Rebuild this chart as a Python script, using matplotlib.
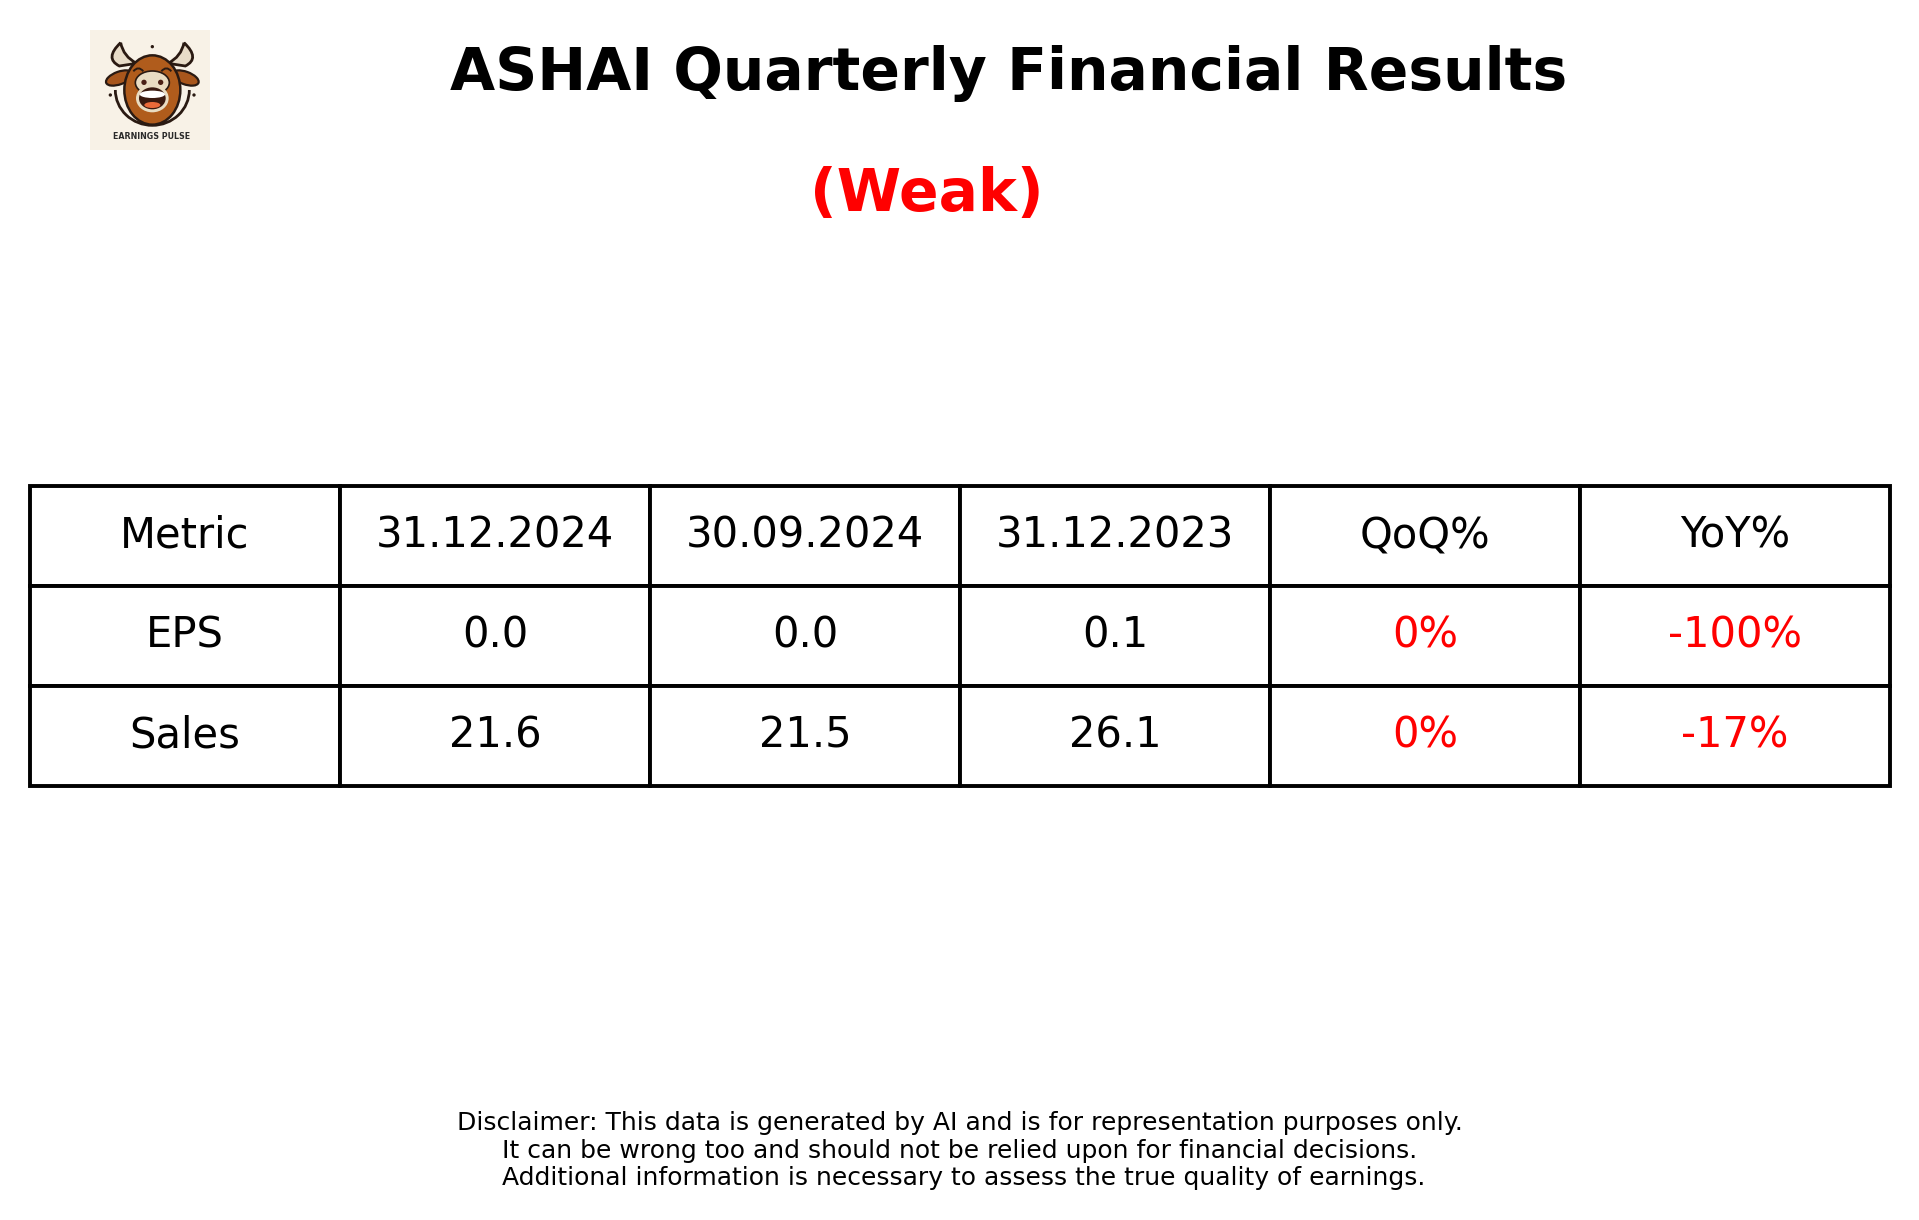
import matplotlib
matplotlib.use('Agg')
from matplotlib import pyplot as plt
from matplotlib.patches import Arc, Ellipse, Circle, PathPatch, Rectangle
from matplotlib.path import Path

WIDTH, HEIGHT, DPI = 1919, 1220, 200

columns = ['Metric', '31.12.2024', '30.09.2024', '31.12.2023', 'QoQ%', 'YoY%']
eps_row = ['EPS', '0.0', '0.0', '0.1', '0%', '-100%']
sales_row = ['Sales', '21.6', '21.5', '26.1', '0%', '-17%']
red_columns = [4, 5]

title = 'ASHAI Quarterly Financial Results'
verdict = '(Weak)'
disclaimer = ['Disclaimer: This data is generated by AI and is for representation purposes only.',
              'It can be wrong too and should not be relied upon for financial decisions.',
              'Additional information is necessary to assess the true quality of earnings.']


def curve(ax, pts, color, lw=0.7):
    codes = [Path.MOVETO] + [Path.CURVE3] * (len(pts) - 1)
    ax.add_patch(PathPatch(Path(pts, codes), facecolor='none', edgecolor=color, linewidth=lw))


def horn(ax, side):
    # side is -1 for the left horn, 1 for the right one, mirrored around the head centre
    pts = [(92, 38), (42, 85), (88, 108), (140, 100), (100, 80), (92, 38)]
    if side > 0:
        pts = [(374 - x, y) for x, y in pts]
    codes = [Path.MOVETO, Path.CURVE3, Path.CURVE3, Path.LINETO, Path.CURVE3, Path.CURVE3]
    ax.add_patch(PathPatch(Path(pts, codes), facecolor='#e8dcc8', edgecolor='#2a1a12', linewidth=1.0))


def draw_logo(fig):
    ax = fig.add_axes([90 / WIDTH, 1 - 150 / HEIGHT, 120 / WIDTH, 120 / HEIGHT])
    ax.set_xlim(0, 360)
    ax.set_ylim(360, 0)
    ax.axis('off')
    dark = '#2a1a12'
    ax.add_patch(Rectangle((0, 0), 360, 360, facecolor='#f8f2e7', edgecolor='none'))
    ax.add_patch(Ellipse((88, 144), 84, 38, angle=-20, facecolor='#a8561c', edgecolor=dark, linewidth=0.8))
    ax.add_patch(Ellipse((286, 144), 84, 38, angle=20, facecolor='#a8561c', edgecolor=dark, linewidth=0.8))
    horn(ax, -1)
    horn(ax, 1)
    # ring behind the head, open at the top
    ax.add_patch(Arc((187, 180), 222, 212, theta1=0, theta2=180, color=dark, linewidth=1.0))
    ax.add_patch(Ellipse((187, 180), 168, 208, facecolor='#b05c1c', edgecolor=dark, linewidth=0.9))
    # muzzle and mouth
    ax.add_patch(Ellipse((187, 158), 102, 70, facecolor='#e9dcc2', edgecolor=dark, linewidth=0.6))
    ax.add_patch(Ellipse((187, 205), 98, 84, facecolor='#e9dcc2', edgecolor='none'))
    ax.add_patch(Ellipse((187, 205), 80, 66, facecolor='#3a1a10', edgecolor='none'))
    ax.add_patch(Ellipse((187, 193), 76, 22, facecolor='white', edgecolor='none'))
    ax.add_patch(Ellipse((187, 225), 48, 18, facecolor='#ea6a3a', edgecolor='none'))
    for x in (162, 212):
        ax.add_patch(Circle((x, 157), 8, facecolor='#4a2015', edgecolor='none'))
    curve(ax, [(130, 124), (145, 106), (160, 124)], dark)
    curve(ax, [(214, 124), (229, 106), (244, 124)], dark)
    for x, y in [(187, 50), (61, 195), (312, 195)]:
        ax.add_patch(Circle((x, y), 5, facecolor=dark, edgecolor='none'))
    ax.text(185, 320, 'EARNINGS PULSE', fontsize=2.85, fontweight='bold', color='#2a2a2a',
            ha='center', va='center')


def draw_table(fig):
    ax = fig.add_axes([0, 0, 1, 1])
    ax.set_xlim(0, WIDTH)
    ax.set_ylim(0, HEIGHT)
    ax.axis('off')
    tbl = ax.table(cellText=[eps_row, sales_row], colLabels=columns, cellLoc='center',
                   bbox=[30, HEIGHT - 786, 1860, 300], transform=ax.transData)
    tbl.auto_set_font_size(False)
    for (row, col), cell in tbl.get_celld().items():
        cell.set_linewidth(1.4)
        cell.set_edgecolor('black')
        cell.get_text().set_fontsize(15)
        if row > 0 and col in red_columns:
            cell.get_text().set_color('red')
    return ax


fig = plt.figure(figsize=(WIDTH / DPI, HEIGHT / DPI), dpi=DPI)
ax = draw_table(fig)
ax.text(1009, HEIGHT - 74, title, fontsize=21, fontweight='bold', ha='center', va='center')
ax.text(927, HEIGHT - 194, verdict, fontsize=21, fontweight='bold', color='red', ha='center', va='center')
for x, y, line in zip([960, 960, 964], [1123, 1151, 1178], disclaimer):
    ax.text(x, HEIGHT - y, line, fontsize=9, ha='center', va='center')
draw_logo(fig)
plt.savefig('out.png', dpi=DPI)
